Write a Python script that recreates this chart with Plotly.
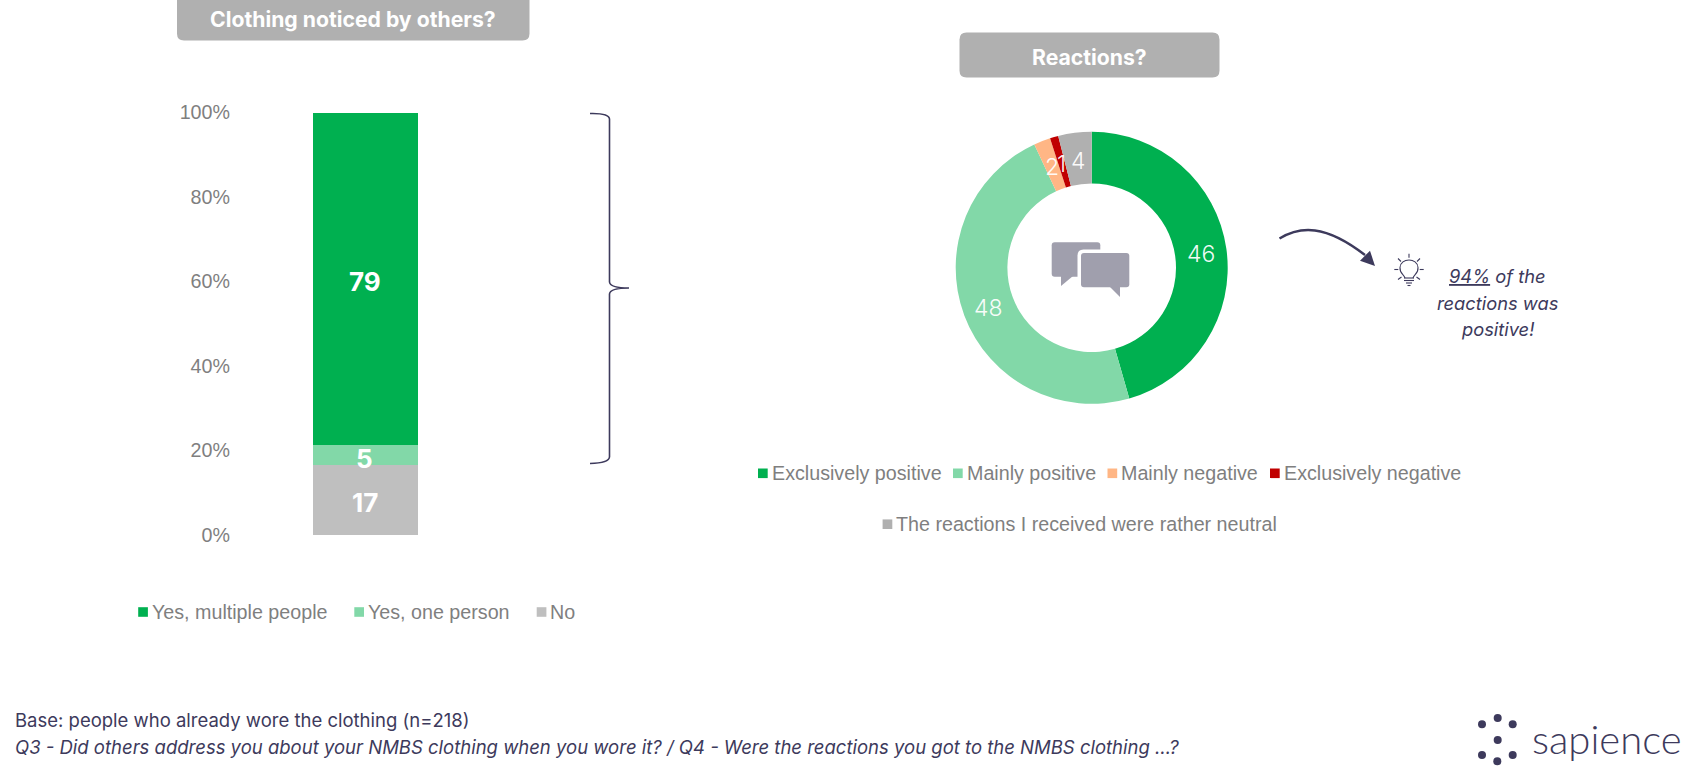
import math
import plotly.graph_objects as go

W, H = 1700, 776

# ---- data ----
bar_labels = ["No", "Yes, one person", "Yes, multiple people"]
bar_values = [16.6, 4.6, 78.8]
bar_text = ["17", "5", "79"]
bar_colors = ["#BFBFBF", "#82D8A8", "#00B050"]
y_ticks = [0, 20, 40, 60, 80, 100]
y_tick_labels = ["0%", "20%", "40%", "60%", "80%", "100%"]

pie_labels = ["Exclusively positive", "Mainly positive", "Mainly negative",
              "Exclusively negative", "The reactions I received were rather neutral"]
pie_values = [46, 48, 2, 1, 4]
pie_colors = ["#00B050", "#82D8A8", "#FFB685", "#C00000", "#B0B0B0"]

INK = "#3D3A5C"
GREY = "#7F7F7F"
BODY = "Liberation Sans"
HEAD = "Inter"
BODY_SIZE = 19.7


def px(x):
    return x / W


def py(y):
    return 1 - y / H


def P(pts, close=False):
    s = "M" + " L".join(f"{px(a):.5f},{py(b):.5f}" for a, b in pts)
    return s + (" Z" if close else "")


shapes, ann = [], []


def text(x, y, s, size, color, font=HEAD, anchor="center", weight=None):
    f = dict(size=size, color=color, family=font)
    if weight:
        f["weight"] = weight
    ann.append(dict(x=px(x), y=py(y), xref="paper", yref="paper", text=s, showarrow=False,
                    xanchor=anchor, yanchor="middle", align=anchor, font=f))


def rrect(x0, y0, x1, y1, r, fill):
    d = (f"M{px(x0+r)},{py(y0)} L{px(x1-r)},{py(y0)} Q{px(x1)},{py(y0)} {px(x1)},{py(y0+r)} "
         f"L{px(x1)},{py(y1-r)} Q{px(x1)},{py(y1)} {px(x1-r)},{py(y1)} "
         f"L{px(x0+r)},{py(y1)} Q{px(x0)},{py(y1)} {px(x0)},{py(y1-r)} "
         f"L{px(x0)},{py(y0+r)} Q{px(x0)},{py(y0)} {px(x0+r)},{py(y0)} Z")
    shapes.append(dict(type="path", xref="paper", yref="paper", path=d, fillcolor=fill,
                       line=dict(width=0)))


def curve(d, color=INK, width=2, fill=None):
    shapes.append(dict(type="path", xref="paper", yref="paper", path=d,
                       line=dict(color=color, width=width), fillcolor=fill))


# ---- header pills ----
rrect(177, -8, 529.5, 40.5, 7, "#B0B0B0")
text(353, 18.5, "<b>Clothing noticed by others?</b>", 21.2, "white")
rrect(959.5, 32.5, 1219.5, 77.5, 7, "#B0B0B0")
text(1089.5, 57, "<b>Reactions?</b>", 21.2, "white")

# ---- curly bracket ----
curve(f"M{px(590)},{py(113.5)} Q{px(609)},{py(113)} {px(609.5)},{py(119)} L{px(609.5)},{py(282)} "
      f"Q{px(610)},{py(288)} {px(629)},{py(288)} Q{px(610)},{py(288)} {px(609.5)},{py(294)} "
      f"L{px(609.5)},{py(457)} Q{px(609)},{py(463)} {px(590)},{py(463.5)}", width=1.6)

# ---- stacked bar ----
AX0, AX1 = 236, 495
fig = go.Figure()
for lab, val, col in zip(bar_labels, bar_values, bar_colors):
    fig.add_trace(go.Bar(x=[0], y=[val], name=lab, marker=dict(color=col, line=dict(width=0)),
                         width=105 / (AX1 - AX0), showlegend=False, hoverinfo="name+y"))
cum = 0
for val, t in zip(bar_values, bar_text):
    ann.append(dict(x=-0.002, y=cum + val / 2, xref="x", yref="y", yshift=-3, text=f"<b>{t}</b>",
                    showarrow=False, font=dict(size=26, color="white", family=HEAD)))
    cum += val

# ---- donut ----
CX, CY, R, r_in = 1091.7, 267.8, 136, 84.3
fig.add_trace(go.Pie(labels=pie_labels, values=pie_values, sort=False, direction="clockwise",
                     rotation=0, hole=r_in / R, textinfo="none", showlegend=False,
                     marker=dict(colors=pie_colors, line=dict(width=0)),
                     domain=dict(x=[px(CX - R), px(CX + R)], y=[py(CY + R), py(CY - R)])))
tot, run = sum(pie_values), 0
mid_r = (R + r_in) / 2
for v in pie_values:
    a = (run + v / 2) / tot * 2 * math.pi
    run += v
    text(CX + mid_r * math.sin(a), CY - mid_r * math.cos(a) + 2, str(v), 23,
         "rgba(255,255,255,0.95)", weight=300)

# ---- chat icon ----
ICON = "#A09FAD"
rrect(1051.7, 242.3, 1100.3, 276.7, 3, ICON)
shapes.append(dict(type="path", xref="paper", yref="paper", fillcolor=ICON, line=dict(width=0),
                   path=P([(1061, 276), (1061, 286), (1073, 276)], True)))
rrect(1077.5, 249.5, 1132.8, 290.5, 6, "white")
rrect(1081, 253, 1129.3, 287.3, 3, ICON)
shapes.append(dict(type="path", xref="paper", yref="paper", fillcolor=ICON, line=dict(width=0),
                   path=P([(1110, 287), (1120, 297), (1120, 287)], True)))

# ---- arrow ----
curve(f"M{px(1279.5)},{py(238.5)} C{px(1300)},{py(226)} {px(1325)},{py(224)} {px(1365)},{py(255)}", width=2.4)
shapes.append(dict(type="path", xref="paper", yref="paper", fillcolor=INK, line=dict(width=0),
                   path=P([(1375, 266), (1360, 260.7), (1370, 250.7)], True)))

# ---- bulb ----
BX, BY = 1409, 269.5
curve(f"M{px(BX-4)},{py(BY+8.5)} C{px(BX-5)},{py(BY+5)} {px(BX-9.5)},{py(BY+4)} {px(BX-9)},{py(BY-2)} "
      f"C{px(BX-8.5)},{py(BY-12)} {px(BX+8.5)},{py(BY-12)} {px(BX+9)},{py(BY-2)} "
      f"C{px(BX+9.5)},{py(BY+4)} {px(BX+5)},{py(BY+5)} {px(BX+4)},{py(BY+8.5)}", width=1.1)
for (a, b, c, d) in [(-5, 8.5, 5, 8.5), (-5, 11, 5, 11), (-3, 13.5, 3, 13.5), (-1.5, 16, 1.5, 16),
                     (0, -15.7, 0, -11.7), (-11, -11, -8, -8), (11, -11, 8, -8),
                     (-14.7, 0, -10.7, 0), (10.7, 0, 14.7, 0),
                     (-11, 10, -7.5, 7.5), (11, 10, 7.5, 7.5)]:
    curve(P([(BX + a, BY + b), (BX + c, BY + d)]), width=1.1)

# ---- callout text ----
text(1497.7, 276, '<i><span style="text-decoration:underline">94%</span> of the</i>', 18.3, INK)
text(1497.7, 302.7, "<i>reactions was</i>", 18.3, INK)
text(1497.7, 329.3, "<i>positive!</i>", 18.3, INK)


# ---- legends ----
def swatch(x, yc, col):
    shapes.append(dict(type="rect", xref="paper", yref="paper", x0=px(x), x1=px(x + 9.7),
                       y0=py(yc + 4.8), y1=py(yc - 4.8), fillcolor=col, line=dict(width=0)))


left_legend_x = [138.2, 354.3, 536.7]
for x, i in zip(left_legend_x, [2, 1, 0]):
    swatch(x, 612, bar_colors[i])
    text(x + 11.5, 612, bar_labels[i], BODY_SIZE, GREY, BODY, "left")

right_legend = [(758, 473.3), (953, 473.3), (1107.5, 473.3), (1270, 473.3), (882.6, 524.2)]
for (x, y), lab, col in zip(right_legend, pie_labels, pie_colors):
    swatch(x, y, col)
    text(x + 11.5, y, lab, BODY_SIZE, GREY, BODY, "left")

# ---- footer ----
text(13, 719.5, "Base: people who already wore the clothing (n=218)", 18.5, INK, HEAD, "left")
text(13, 746.8, "<i>Q3 - Did others address you about your NMBS clothing when you wore it? / "
                "Q4 - Were the reactions you got to the NMBS clothing …?</i>", 18.5, INK, HEAD, "left")

# ---- logo ----
for x, y in [(1482, 724.3), (1497.7, 718), (1512.7, 724.3), (1497.7, 740),
             (1482, 755), (1497.3, 761.3), (1512.7, 755)]:
    shapes.append(dict(type="circle", xref="paper", yref="paper", x0=px(x - 4), x1=px(x + 4),
                       y0=py(y + 4), y1=py(y - 4), fillcolor=INK, line=dict(width=0)))
text(1530, 738.5, "sapience", 40, INK, "Lato", "left", weight=300)

fig.update_layout(
    template="none",
    width=W, height=H, autosize=False, barmode="stack", showlegend=False,
    paper_bgcolor="white", plot_bgcolor="white",
    margin=dict(l=0, r=0, t=0, b=0, pad=0),
    shapes=shapes, annotations=ann,
    xaxis=dict(domain=[px(AX0), px(AX1)], range=[-0.5, 0.5], visible=False, fixedrange=True,
               type="linear", automargin=False),
    yaxis=dict(domain=[py(535), py(112.5)], range=[0, 100], tickmode="array", tickvals=y_ticks,
               ticktext=y_tick_labels, showgrid=False, zeroline=False, showline=False, ticks="",
               fixedrange=True, automargin=False, ticklabelstandoff=5,
               tickfont=dict(size=BODY_SIZE, color=GREY, family=BODY), anchor="x"),
)
fig.write_html("out.html", config=dict(displayModeBar=False),
               post_script="document.body.style.margin='0';document.documentElement.style.overflow='hidden';")
